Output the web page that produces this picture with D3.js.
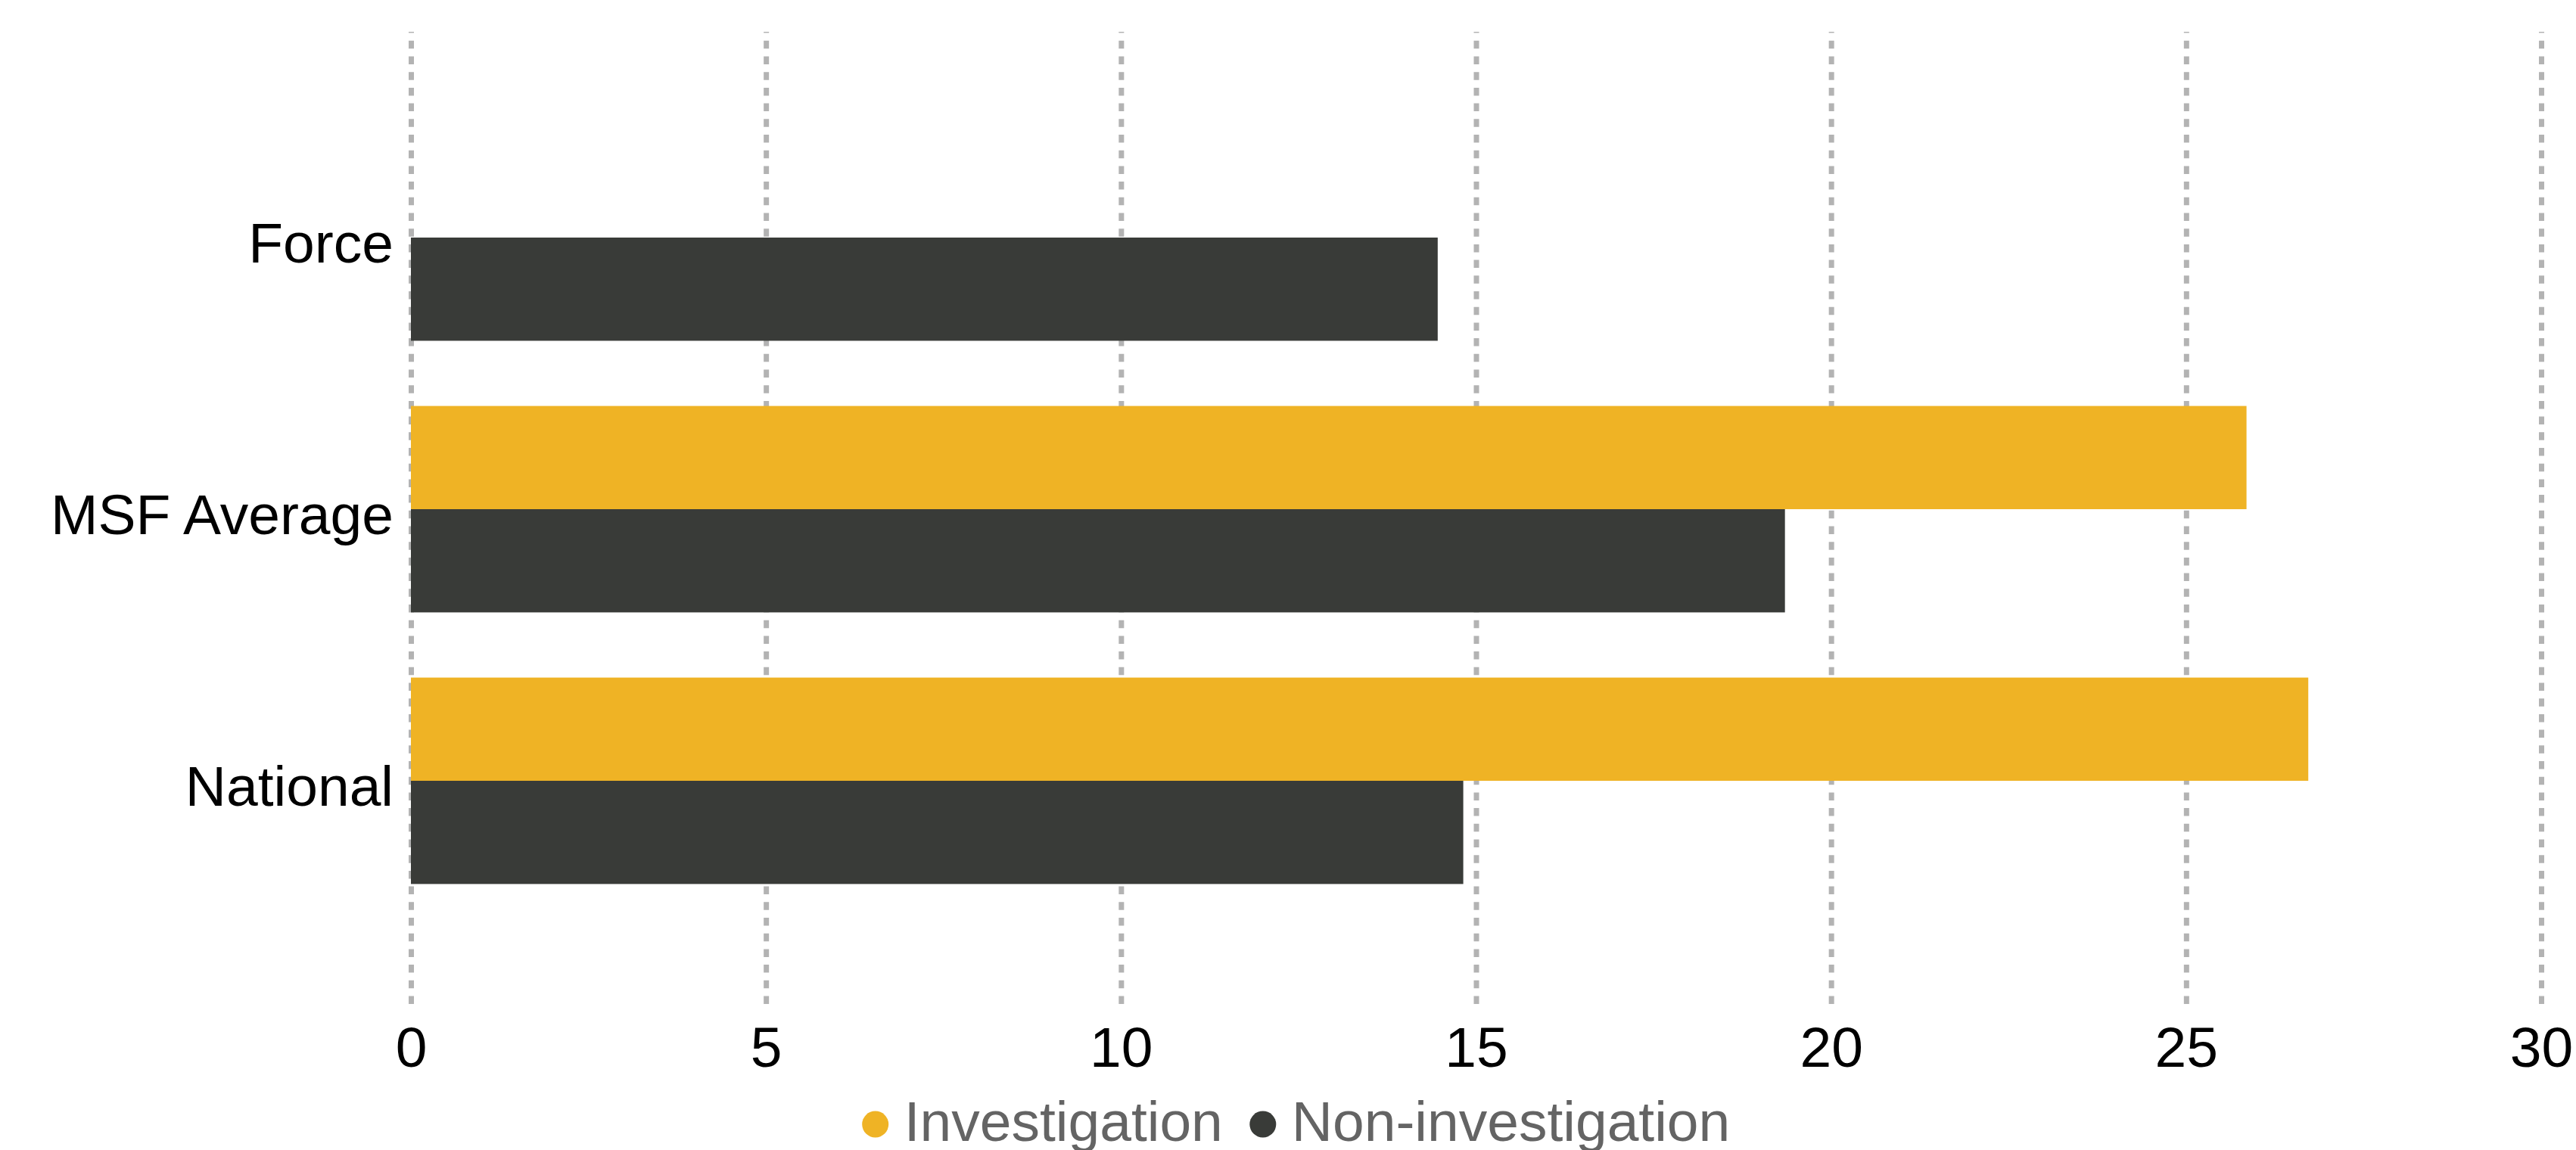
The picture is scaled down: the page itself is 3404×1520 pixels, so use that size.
<!DOCTYPE html>
<html>
<head>
<meta charset="utf-8">
<script src="https://cdn.jsdelivr.net/npm/d3@7"></script>
<style>
  body { margin: 0; background: #fff; }
  text { font-family: "Liberation Sans", Arial, sans-serif; }
</style>
</head>
<body>
<div id="chart"></div>
<script>
var categories = ["Force", "MSF Average", "National"];
var seriesNames = ["Investigation", "Non-investigation"];
var investigation = [null, 25.85, 26.72];
var nonInvestigation = [14.46, 19.35, 14.82];
var xTicks = [0, 5, 10, 15, 20, 25, 30];

var colors = { "Investigation": "#efb325", "Non-investigation": "#393b38" };

var width = 3404, height = 1520;
var plotLeft = 543, plotRight = 3358, plotTop = 42, plotBottom = 1327;

var svg = d3.select("#chart")
  .append("svg")
  .attr("width", width)
  .attr("height", height);

var x = d3.scaleLinear().domain([0, 30]).range([plotLeft, plotRight]);

var y = d3.scaleBand()
  .domain(categories)
  .range([134.5, 1211.5])
  .paddingInner(0.24)
  .paddingOuter(0.12);

var ySub = d3.scaleBand()
  .domain(seriesNames)
  .range([0, y.bandwidth()]);

// dashed vertical grid
var grid = svg.append("g")
  .attr("transform", "translate(0," + plotBottom + ")")
  .call(d3.axisBottom(x).tickValues(xTicks).tickSize(-(plotBottom - plotTop)).tickFormat(""));
grid.select(".domain").remove();
grid.selectAll("line")
  .attr("stroke", "#b3b3b3")
  .attr("stroke-width", 7)
  .attr("stroke-dasharray", "10.5,10.2");

// bars
var rows = categories.map(function(c, i) {
  return [
    { cat: c, series: "Investigation", value: investigation[i] },
    { cat: c, series: "Non-investigation", value: nonInvestigation[i] }
  ];
});

svg.append("g")
  .selectAll("g")
  .data(rows)
  .enter()
    .append("g")
    .attr("transform", function(d) { return "translate(0," + y(d[0].cat) + ")"; })
    .selectAll("rect")
      .data(function(d) { return d.filter(function(b) { return b.value != null; }); })
      .enter()
        .append("rect")
        .attr("x", x(0))
        .attr("y", function(b) { return ySub(b.series); })
        .attr("width", function(b) { return x(b.value) - x(0); })
        .attr("height", ySub.bandwidth())
        .attr("fill", function(b) { return colors[b.series]; });

// category labels
svg.append("g")
  .selectAll("text")
  .data(categories)
  .enter()
    .append("text")
    .attr("x", 520)
    .attr("y", function(c) { return y(c) + y.bandwidth() / 2; })
    .attr("dy", "0.44em")
    .attr("text-anchor", "end")
    .attr("font-size", 75)
    .attr("fill", "#000")
    .text(function(c) { return c; });

// x axis labels
var xAxis = svg.append("g")
  .attr("transform", "translate(0," + plotBottom + ")")
  .call(d3.axisBottom(x).tickValues(xTicks).tickSize(0).tickPadding(30));
xAxis.select(".domain").remove();
xAxis.selectAll("text")
  .attr("font-size", 75)
  .attr("font-family", "Liberation Sans, Arial, sans-serif")
  .attr("fill", "#000");

// legend
var legend = svg.append("g");
var cursor = 0;
seriesNames.forEach(function(name, i) {
  var item = legend.append("g").attr("transform", "translate(" + cursor + ",0)");
  item.append("circle")
    .attr("cx", 17)
    .attr("cy", 0)
    .attr("r", 17.5)
    .attr("fill", colors[name]);
  var t = item.append("text")
    .attr("x", 55)
    .attr("y", 22)
    .attr("font-size", 75)
    .attr("fill", "#646464")
    .text(name);
  cursor += 55 + t.node().getComputedTextLength() + 36;
});
var legendWidth = cursor - 36;
legend.attr("transform", "translate(" + (1713 - legendWidth / 2) + ",1486)");
</script>
</body>
</html>
